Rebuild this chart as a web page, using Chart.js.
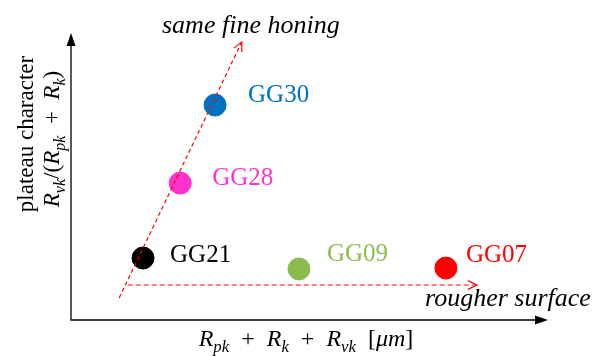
<!DOCTYPE html>
<html>
<head>
<meta charset="utf-8">
<script src="https://cdn.jsdelivr.net/npm/chart.js@4.4.1/dist/chart.umd.min.js"></script>
<style>
  html, body { margin: 0; padding: 0; background: #fff; }
  #wrap { width: 594px; height: 356px; }
</style>
</head>
<body>
<div id="wrap"><canvas id="myChart" width="594" height="356"></canvas></div>
<script>
// samples (arbitrary units)
const samples = ['GG30', 'GG28', 'GG21', 'GG09', 'GG07'];
const xValues = [3.02, 2.29, 1.51, 4.78, 7.86];
const yValues = [7.49, 4.77, 2.16, 1.78, 1.81];
const colors = ['#0070C0', '#FF33CC', '#000000', '#8DBB4E', '#FF0000'];

// dashed trend arrows
const honingX = [1.01, 3.58];
const honingY = [0.77, 9.69];
const rougherX = [1.19, 8.51];
const rougherY = [1.22, 1.22];

const ctx = document.getElementById('myChart');
const serif = '"Liberation Serif", "Times New Roman", serif';

// label offsets from the point (px)
const labelOffset = [[33, -10], [32, -5], [27, -3], [28, -14], [20, -13]];

function drawArrowHead(c, x1, y1, x2, y2, size) {
    const a = Math.atan2(y2 - y1, x2 - x1);
    c.beginPath();
    c.moveTo(x2 - size * Math.cos(a - 0.45), y2 - size * Math.sin(a - 0.45));
    c.lineTo(x2, y2);
    c.lineTo(x2 - size * Math.cos(a + 0.45), y2 - size * Math.sin(a + 0.45));
    c.stroke();
}

// math text: parts = [text, subscript?, upright?]
function setMathFont(c, p, size) {
    c.font = (p[2] ? '' : 'italic ') + (p[1] ? size * 0.7 : size) + 'px ' + serif;
}
function mathWidth(c, parts, size) {
    let w = 0;
    parts.forEach(p => { setMathFont(c, p, size); w += c.measureText(p[0]).width; });
    return w;
}
function drawMath(c, parts, x, y, size) {
    parts.forEach(p => {
        setMathFont(c, p, size);
        c.fillText(p[0], x, p[1] ? y + size * 0.25 : y);
        x += c.measureText(p[0]).width;
    });
}

const decor = {
    id: 'decor',
    afterDatasetsDraw(chart) {
        const c = chart.ctx;
        const a = chart.chartArea;
        const xs = chart.scales.x, ys = chart.scales.y;
        c.save();

        // axes with arrows
        c.strokeStyle = '#000';
        c.fillStyle = '#000';
        c.lineWidth = 1.3;
        c.beginPath();
        c.moveTo(a.left, a.top + 4);
        c.lineTo(a.left, a.bottom);
        c.lineTo(a.right - 4, a.bottom);
        c.stroke();
        c.beginPath();
        c.moveTo(a.left, a.top);
        c.lineTo(a.left - 4.5, a.top + 13);
        c.lineTo(a.left + 4.5, a.top + 13);
        c.closePath(); c.fill();
        c.beginPath();
        c.moveTo(a.right, a.bottom);
        c.lineTo(a.right - 13, a.bottom - 4.5);
        c.lineTo(a.right - 13, a.bottom + 4.5);
        c.closePath(); c.fill();

        // arrow heads of dashed lines
        c.strokeStyle = '#FF0000';
        c.lineWidth = 1.2;
        drawArrowHead(c, xs.getPixelForValue(honingX[0]), ys.getPixelForValue(honingY[0]),
            xs.getPixelForValue(honingX[1]), ys.getPixelForValue(honingY[1]), 10);
        drawArrowHead(c, xs.getPixelForValue(rougherX[0]), ys.getPixelForValue(rougherY[0]),
            xs.getPixelForValue(rougherX[1]), ys.getPixelForValue(rougherY[1]), 10);

        // point labels
        c.textBaseline = 'middle';
        c.font = '25px ' + serif;
        samples.forEach((s, i) => {
            c.fillStyle = colors[i];
            c.fillText(s, xs.getPixelForValue(xValues[i]) + labelOffset[i][0],
                ys.getPixelForValue(yValues[i]) + labelOffset[i][1]);
        });

        // annotations
        c.fillStyle = '#000';
        c.textBaseline = 'alphabetic';
        c.font = 'italic 26px ' + serif;
        c.fillText('same fine honing', 162, 33);
        c.fillText('rougher surface', 425, 306);

        // x axis title
        const xt = [['R'], ['pk', 1], ['  +  ', 0, 1], ['R'], ['k', 1], ['  +  ', 0, 1], ['R'], ['vk', 1], ['  [', 0, 1], ['\u03BCm'], [']', 0, 1]];
        const xw = mathWidth(c, xt, 24);
        drawMath(c, xt, 306 - xw / 2, 346, 24);

        // y axis title
        c.translate(0, 0);
        c.rotate(-Math.PI / 2);
        c.font = '23px ' + serif;
        c.textAlign = 'center';
        c.fillText('plateau character', -134, 33);
        c.textAlign = 'left';
        const yt = [['R'], ['vk', 1], ['/(', 0, 1], ['R'], ['pk', 1], ['  +  ', 0, 1], ['R'], ['k', 1], [')', 0, 1]];
        const yw = mathWidth(c, yt, 23);
        drawMath(c, yt, -139 - yw / 2, 59, 23);
        c.restore();
    }
};

new Chart(ctx, {
    type: 'scatter',
    data: {
        datasets: [{
            type: 'line',
            data: honingX.map((x, i) => ({ x: x, y: honingY[i] })),
            borderColor: '#FF0000',
            borderWidth: 1.2,
            borderDash: [4, 3],
            pointRadius: 0,
            fill: false
        }, {
            type: 'line',
            data: rougherX.map((x, i) => ({ x: x, y: rougherY[i] })),
            borderColor: '#FF0000',
            borderWidth: 1.2,
            borderDash: [5, 3],
            pointRadius: 0,
            fill: false
        }, {
            data: xValues.map((x, i) => ({ x: x, y: yValues[i] })),
            backgroundColor: colors,
            borderColor: colors,
            pointRadius: 11,
            pointHoverRadius: 11
        }, {
            data: [{ x: 10.73, y: -0.1 }],
            backgroundColor: '#000',
            pointRadius: 2.5,
            clip: false
        }]
    },
    options: {
        animation: false,
        responsive: false,
        events: [],
        layout: { padding: { left: 71, top: 33, right: 46, bottom: 36 } },
        plugins: { legend: { display: false }, tooltip: { enabled: false } },
        scales: {
            x: { type: 'linear', min: 0, max: 10, display: false },
            y: { type: 'linear', min: 0, max: 10, display: false }
        }
    },
    plugins: [decor]
});
</script>
</body>
</html>
